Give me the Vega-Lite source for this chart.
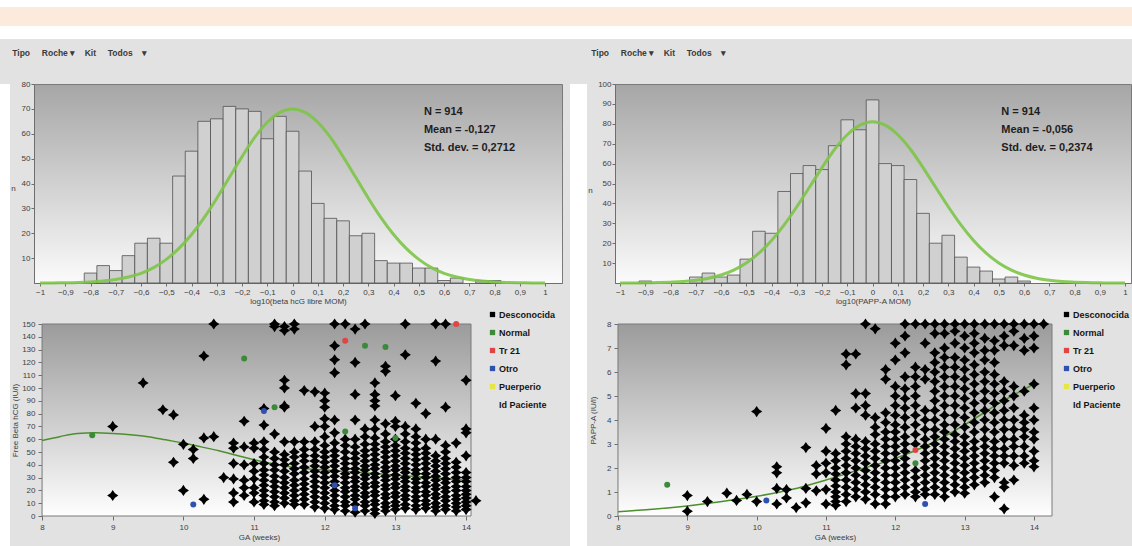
{
"$schema": "https://vega.github.io/schema/vega-lite/v6.json",
"padding": 0,
"background": "#e2e2e2",
"spacing": 10,
"datasets": {
"h1": [{"lo":-0.825,"hi":-0.775,"n":4},{"lo":-0.775,"hi":-0.725,"n":7},{"lo":-0.725,"hi":-0.675,"n":5},{"lo":-0.675,"hi":-0.625,"n":11},{"lo":-0.625,"hi":-0.575,"n":16},{"lo":-0.575,"hi":-0.525,"n":18},{"lo":-0.525,"hi":-0.475,"n":16},{"lo":-0.475,"hi":-0.425,"n":43},{"lo":-0.425,"hi":-0.375,"n":53},{"lo":-0.375,"hi":-0.325,"n":65},{"lo":-0.325,"hi":-0.275,"n":66},{"lo":-0.275,"hi":-0.225,"n":71},{"lo":-0.225,"hi":-0.175,"n":70},{"lo":-0.175,"hi":-0.125,"n":69},{"lo":-0.125,"hi":-0.075,"n":58},{"lo":-0.075,"hi":-0.025,"n":67},{"lo":-0.025,"hi":0.025,"n":61},{"lo":0.025,"hi":0.075,"n":45},{"lo":0.075,"hi":0.125,"n":32},{"lo":0.125,"hi":0.175,"n":26},{"lo":0.175,"hi":0.225,"n":25},{"lo":0.225,"hi":0.275,"n":19},{"lo":0.275,"hi":0.325,"n":20},{"lo":0.325,"hi":0.375,"n":9},{"lo":0.375,"hi":0.425,"n":8},{"lo":0.425,"hi":0.475,"n":8},{"lo":0.475,"hi":0.525,"n":6},{"lo":0.525,"hi":0.575,"n":6},{"lo":0.575,"hi":0.625,"n":1},{"lo":0.625,"hi":0.675,"n":2},{"lo":0.725,"hi":0.775,"n":1},{"lo":0.775,"hi":0.825,"n":1}],
"h2": [{"lo":-0.925,"hi":-0.875,"n":1},{"lo":-0.725,"hi":-0.675,"n":3},{"lo":-0.675,"hi":-0.625,"n":5},{"lo":-0.625,"hi":-0.575,"n":3},{"lo":-0.575,"hi":-0.525,"n":4},{"lo":-0.525,"hi":-0.475,"n":12},{"lo":-0.475,"hi":-0.425,"n":26},{"lo":-0.425,"hi":-0.375,"n":25},{"lo":-0.375,"hi":-0.325,"n":46},{"lo":-0.325,"hi":-0.275,"n":55},{"lo":-0.275,"hi":-0.225,"n":59},{"lo":-0.225,"hi":-0.175,"n":57},{"lo":-0.175,"hi":-0.125,"n":69},{"lo":-0.125,"hi":-0.075,"n":82},{"lo":-0.075,"hi":-0.025,"n":77},{"lo":-0.025,"hi":0.025,"n":92},{"lo":0.025,"hi":0.075,"n":60},{"lo":0.075,"hi":0.125,"n":59},{"lo":0.125,"hi":0.175,"n":52},{"lo":0.175,"hi":0.225,"n":35},{"lo":0.225,"hi":0.275,"n":20},{"lo":0.275,"hi":0.325,"n":24},{"lo":0.325,"hi":0.375,"n":13},{"lo":0.375,"hi":0.425,"n":8},{"lo":0.425,"hi":0.475,"n":6},{"lo":0.475,"hi":0.525,"n":2},{"lo":0.525,"hi":0.575,"n":3},{"lo":0.575,"hi":0.625,"n":1}],
"c1": [{"x":-1,"y":0},{"x":-0.95,"y":0.05},{"x":-0.9,"y":0.1},{"x":-0.85,"y":0.2},{"x":-0.8,"y":0.4},{"x":-0.75,"y":0.8},{"x":-0.7,"y":1.4},{"x":-0.65,"y":2.4},{"x":-0.6,"y":3.9},{"x":-0.55,"y":6.2},{"x":-0.5,"y":9.5},{"x":-0.45,"y":13.9},{"x":-0.4,"y":19.5},{"x":-0.35,"y":26.3},{"x":-0.3,"y":34.1},{"x":-0.25,"y":42.5},{"x":-0.2,"y":50.8},{"x":-0.15,"y":58.5},{"x":-0.1,"y":64.6},{"x":-0.05,"y":68.6},{"x":0,"y":70},{"x":0.05,"y":68.6},{"x":0.1,"y":64.6},{"x":0.15,"y":58.5},{"x":0.2,"y":50.8},{"x":0.25,"y":42.5},{"x":0.3,"y":34.1},{"x":0.35,"y":26.3},{"x":0.4,"y":19.5},{"x":0.45,"y":13.9},{"x":0.5,"y":9.5},{"x":0.55,"y":6.2},{"x":0.6,"y":3.9},{"x":0.65,"y":2.4},{"x":0.7,"y":1.4},{"x":0.75,"y":0.8},{"x":0.8,"y":0.4},{"x":0.85,"y":0.2},{"x":0.9,"y":0.1},{"x":0.95,"y":0.05},{"x":1,"y":0}],
"c2": [{"x":-1,"y":0},{"x":-0.95,"y":0},{"x":-0.9,"y":0.1},{"x":-0.85,"y":0.2},{"x":-0.8,"y":0.4},{"x":-0.75,"y":0.7},{"x":-0.7,"y":1.4},{"x":-0.65,"y":2.4},{"x":-0.6,"y":4.0},{"x":-0.55,"y":6.5},{"x":-0.5,"y":10.1},{"x":-0.45,"y":15.0},{"x":-0.4,"y":21.4},{"x":-0.35,"y":29.2},{"x":-0.3,"y":38.3},{"x":-0.25,"y":48.1},{"x":-0.2,"y":58.0},{"x":-0.15,"y":67.2},{"x":-0.1,"y":74.5},{"x":-0.05,"y":79.3},{"x":0,"y":81},{"x":0.05,"y":79.3},{"x":0.1,"y":74.5},{"x":0.15,"y":67.2},{"x":0.2,"y":58.0},{"x":0.25,"y":48.1},{"x":0.3,"y":38.3},{"x":0.35,"y":29.2},{"x":0.4,"y":21.4},{"x":0.45,"y":15.0},{"x":0.5,"y":10.1},{"x":0.55,"y":6.5},{"x":0.6,"y":4.0},{"x":0.65,"y":2.4},{"x":0.7,"y":1.4},{"x":0.75,"y":0.7},{"x":0.8,"y":0.4},{"x":0.85,"y":0.2},{"x":0.9,"y":0.1},{"x":0.95,"y":0},{"x":1,"y":0}],
"l1": [{"x":8,"y":59},{"x":8.25,"y":62},{"x":8.5,"y":64.5},{"x":8.75,"y":65},{"x":9,"y":64.5},{"x":9.25,"y":63.5},{"x":9.5,"y":62},{"x":9.75,"y":59.5},{"x":10,"y":57},{"x":10.25,"y":54},{"x":10.5,"y":51},{"x":10.75,"y":47.5},{"x":11,"y":44},{"x":11.25,"y":41},{"x":11.5,"y":38.5},{"x":11.75,"y":37},{"x":12,"y":36},{"x":12.5,"y":34},{"x":13,"y":32},{"x":13.5,"y":30},{"x":14,"y":28}],
"l2": [{"x":8,"y":0.18},{"x":8.5,"y":0.28},{"x":9,"y":0.42},{"x":9.5,"y":0.6},{"x":10,"y":0.82},{"x":10.5,"y":1.1},{"x":11,"y":1.5},{"x":11.5,"y":1.95},{"x":12,"y":2.4},{"x":12.5,"y":3.0},{"x":13,"y":3.8},{"x":13.5,"y":4.7},{"x":14,"y":5.5}],
"k1": [{"x":8.71,"y":63,"g":"Normal"},{"x":10.86,"y":123,"g":"Normal"},{"x":11.29,"y":85,"g":"Normal"},{"x":12.29,"y":66,"g":"Normal"},{"x":12.57,"y":133,"g":"Normal"},{"x":12.86,"y":132,"g":"Normal"},{"x":13.0,"y":61,"g":"Normal"},{"x":12.29,"y":137,"g":"Tr 21"},{"x":13.86,"y":150,"g":"Tr 21"},{"x":10.14,"y":9,"g":"Otro"},{"x":11.14,"y":82,"g":"Otro"},{"x":12.14,"y":24,"g":"Otro"},{"x":12.43,"y":6,"g":"Otro"}],
"k2": [{"x":8.71,"y":1.3,"g":"Normal"},{"x":12.29,"y":2.2,"g":"Normal"},{"x":12.29,"y":2.75,"g":"Tr 21"},{"x":10.14,"y":0.65,"g":"Otro"},{"x":12.43,"y":0.5,"g":"Otro"}],
"s1": [{"x":9,"y":70},{"x":9,"y":16},{"x":9.43,"y":104},{"x":9.71,"y":83},{"x":9.86,"y":79},{"x":9.86,"y":42},{"x":10,"y":56},{"x":10,"y":20},{"x":10.14,"y":52},{"x":10.14,"y":45},{"x":10.29,"y":61},{"x":10.29,"y":125},{"x":10.29,"y":13},{"x":10.43,"y":150},{"x":10.43,"y":62},{"x":10.57,"y":30},{"x":10.71,"y":57},{"x":10.71,"y":53},{"x":10.71,"y":41},{"x":10.71,"y":29},{"x":10.71,"y":18},{"x":10.71,"y":11},{"x":10.86,"y":74},{"x":10.86,"y":54},{"x":10.86,"y":40},{"x":10.86,"y":28},{"x":10.86,"y":22},{"x":10.86,"y":16},
{"x":11,"y":57},{"x":11,"y":53},{"x":11,"y":41},{"x":11,"y":35},{"x":11,"y":29},{"x":11,"y":22},{"x":11,"y":18},{"x":11,"y":11},
{"x":11.14,"y":84},{"x":11.14,"y":71},{"x":11.14,"y":58},{"x":11.14,"y":52},{"x":11.14,"y":46},{"x":11.14,"y":41},{"x":11.14,"y":36},{"x":11.14,"y":32},{"x":11.14,"y":28},{"x":11.14,"y":24},{"x":11.14,"y":20},{"x":11.14,"y":16},{"x":11.14,"y":12},{"x":11.14,"y":9},
{"x":11.29,"y":150},{"x":11.29,"y":148},{"x":11.29,"y":64},{"x":11.29,"y":50},{"x":11.29,"y":45},{"x":11.29,"y":40},{"x":11.29,"y":36},{"x":11.29,"y":31},{"x":11.29,"y":27},{"x":11.29,"y":23},{"x":11.29,"y":19},{"x":11.29,"y":15},{"x":11.29,"y":11},{"x":11.29,"y":8},
{"x":11.43,"y":148},{"x":11.43,"y":145},{"x":11.43,"y":106},{"x":11.43,"y":100},{"x":11.43,"y":86},{"x":11.43,"y":85},{"x":11.43,"y":58},{"x":11.43,"y":48},{"x":11.43,"y":44},{"x":11.43,"y":40},{"x":11.43,"y":35},{"x":11.43,"y":30},{"x":11.43,"y":26},{"x":11.43,"y":22},{"x":11.43,"y":18},{"x":11.43,"y":14},{"x":11.43,"y":10},
{"x":11.57,"y":150},{"x":11.57,"y":146},{"x":11.57,"y":58},{"x":11.57,"y":50},{"x":11.57,"y":46},{"x":11.57,"y":41},{"x":11.57,"y":37},{"x":11.57,"y":33},{"x":11.57,"y":28},{"x":11.57,"y":24},{"x":11.57,"y":20},{"x":11.57,"y":16},{"x":11.57,"y":12},{"x":11.57,"y":9},
{"x":11.71,"y":98},{"x":11.71,"y":58},{"x":11.71,"y":52},{"x":11.71,"y":47},{"x":11.71,"y":43},{"x":11.71,"y":38},{"x":11.71,"y":34},{"x":11.71,"y":29},{"x":11.71,"y":25},{"x":11.71,"y":21},{"x":11.71,"y":17},{"x":11.71,"y":13},{"x":11.71,"y":9},
{"x":11.86,"y":97},{"x":11.86,"y":70},{"x":11.86,"y":58},{"x":11.86,"y":52},{"x":11.86,"y":47},{"x":11.86,"y":43},{"x":11.86,"y":39},{"x":11.86,"y":35},{"x":11.86,"y":31},{"x":11.86,"y":27},{"x":11.86,"y":23},{"x":11.86,"y":19},{"x":11.86,"y":15},{"x":11.86,"y":11},{"x":11.86,"y":7},
{"x":12,"y":96},{"x":12,"y":90},{"x":12,"y":85},{"x":12,"y":76},{"x":12,"y":70},{"x":12,"y":62},{"x":12,"y":55},{"x":12,"y":50},{"x":12,"y":46},{"x":12,"y":42},{"x":12,"y":38},{"x":12,"y":34},{"x":12,"y":30},{"x":12,"y":26},{"x":12,"y":22},{"x":12,"y":18},{"x":12,"y":14},{"x":12,"y":10},{"x":12,"y":6},
{"x":12.14,"y":150},{"x":12.14,"y":133},{"x":12.14,"y":122},{"x":12.14,"y":112},{"x":12.14,"y":75},{"x":12.14,"y":65},{"x":12.14,"y":57},{"x":12.14,"y":51},{"x":12.14,"y":47},{"x":12.14,"y":43},{"x":12.14,"y":39},{"x":12.14,"y":35},{"x":12.14,"y":31},{"x":12.14,"y":27},{"x":12.14,"y":24},{"x":12.14,"y":20},{"x":12.14,"y":16},{"x":12.14,"y":12},{"x":12.14,"y":8},{"x":12.14,"y":5},
{"x":12.29,"y":150},{"x":12.29,"y":60},{"x":12.29,"y":55},{"x":12.29,"y":50},{"x":12.29,"y":45},{"x":12.29,"y":41},{"x":12.29,"y":37},{"x":12.29,"y":33},{"x":12.29,"y":30},{"x":12.29,"y":26},{"x":12.29,"y":22},{"x":12.29,"y":19},{"x":12.29,"y":15},{"x":12.29,"y":11},{"x":12.29,"y":8},{"x":12.29,"y":4},
{"x":12.43,"y":146},{"x":12.43,"y":120},{"x":12.43,"y":95},{"x":12.43,"y":75},{"x":12.43,"y":60},{"x":12.43,"y":54},{"x":12.43,"y":49},{"x":12.43,"y":45},{"x":12.43,"y":41},{"x":12.43,"y":37},{"x":12.43,"y":34},{"x":12.43,"y":30},{"x":12.43,"y":27},{"x":12.43,"y":23},{"x":12.43,"y":20},{"x":12.43,"y":16},{"x":12.43,"y":13},{"x":12.43,"y":9},{"x":12.43,"y":3},
{"x":12.57,"y":150},{"x":12.57,"y":68},{"x":12.57,"y":62},{"x":12.57,"y":56},{"x":12.57,"y":51},{"x":12.57,"y":47},{"x":12.57,"y":43},{"x":12.57,"y":39},{"x":12.57,"y":36},{"x":12.57,"y":32},{"x":12.57,"y":29},{"x":12.57,"y":25},{"x":12.57,"y":22},{"x":12.57,"y":18},{"x":12.57,"y":15},{"x":12.57,"y":11},{"x":12.57,"y":8},{"x":12.57,"y":4},
{"x":12.71,"y":104},{"x":12.71,"y":95},{"x":12.71,"y":90},{"x":12.71,"y":86},{"x":12.71,"y":75},{"x":12.71,"y":68},{"x":12.71,"y":61},{"x":12.71,"y":56},{"x":12.71,"y":52},{"x":12.71,"y":48},{"x":12.71,"y":44},{"x":12.71,"y":40},{"x":12.71,"y":37},{"x":12.71,"y":33},{"x":12.71,"y":30},{"x":12.71,"y":26},{"x":12.71,"y":23},{"x":12.71,"y":19},{"x":12.71,"y":16},{"x":12.71,"y":12},{"x":12.71,"y":9},{"x":12.71,"y":5},{"x":12.71,"y":2},
{"x":12.86,"y":117},{"x":12.86,"y":113},{"x":12.86,"y":72},{"x":12.86,"y":64},{"x":12.86,"y":58},{"x":12.86,"y":54},{"x":12.86,"y":50},{"x":12.86,"y":46},{"x":12.86,"y":42},{"x":12.86,"y":38},{"x":12.86,"y":35},{"x":12.86,"y":31},{"x":12.86,"y":28},{"x":12.86,"y":24},{"x":12.86,"y":21},{"x":12.86,"y":17},{"x":12.86,"y":14},{"x":12.86,"y":10},{"x":12.86,"y":7},{"x":12.86,"y":4},
{"x":13,"y":94},{"x":13,"y":74},{"x":13,"y":70},{"x":13,"y":60},{"x":13,"y":55},{"x":13,"y":51},{"x":13,"y":47},{"x":13,"y":43},{"x":13,"y":39},{"x":13,"y":36},{"x":13,"y":32},{"x":13,"y":29},{"x":13,"y":25},{"x":13,"y":22},{"x":13,"y":18},{"x":13,"y":15},{"x":13,"y":11},{"x":13,"y":8},{"x":13,"y":5},
{"x":13.14,"y":150},{"x":13.14,"y":126},{"x":13.14,"y":70},{"x":13.14,"y":64},{"x":13.14,"y":58},{"x":13.14,"y":53},{"x":13.14,"y":49},{"x":13.14,"y":45},{"x":13.14,"y":41},{"x":13.14,"y":37},{"x":13.14,"y":34},{"x":13.14,"y":30},{"x":13.14,"y":27},{"x":13.14,"y":23},{"x":13.14,"y":20},{"x":13.14,"y":16},{"x":13.14,"y":13},{"x":13.14,"y":9},{"x":13.14,"y":6},
{"x":13.29,"y":88},{"x":13.29,"y":68},{"x":13.29,"y":62},{"x":13.29,"y":57},{"x":13.29,"y":52},{"x":13.29,"y":48},{"x":13.29,"y":44},{"x":13.29,"y":40},{"x":13.29,"y":36},{"x":13.29,"y":33},{"x":13.29,"y":29},{"x":13.29,"y":26},{"x":13.29,"y":22},{"x":13.29,"y":19},{"x":13.29,"y":15},{"x":13.29,"y":12},{"x":13.29,"y":8},{"x":13.29,"y":5},
{"x":13.43,"y":80},{"x":13.43,"y":60},{"x":13.43,"y":53},{"x":13.43,"y":49},{"x":13.43,"y":45},{"x":13.43,"y":41},{"x":13.43,"y":37},{"x":13.43,"y":33},{"x":13.43,"y":30},{"x":13.43,"y":26},{"x":13.43,"y":23},{"x":13.43,"y":19},{"x":13.43,"y":16},{"x":13.43,"y":12},{"x":13.43,"y":9},{"x":13.43,"y":6},
{"x":13.57,"y":150},{"x":13.57,"y":121},{"x":13.57,"y":60},{"x":13.57,"y":47},{"x":13.57,"y":43},{"x":13.57,"y":39},{"x":13.57,"y":35},{"x":13.57,"y":31},{"x":13.57,"y":28},{"x":13.57,"y":24},{"x":13.57,"y":21},{"x":13.57,"y":17},{"x":13.57,"y":14},{"x":13.57,"y":10},{"x":13.57,"y":7},{"x":13.57,"y":4},
{"x":13.71,"y":150},{"x":13.71,"y":85},{"x":13.71,"y":55},{"x":13.71,"y":50},{"x":13.71,"y":45},{"x":13.71,"y":41},{"x":13.71,"y":37},{"x":13.71,"y":33},{"x":13.71,"y":29},{"x":13.71,"y":26},{"x":13.71,"y":22},{"x":13.71,"y":19},{"x":13.71,"y":15},{"x":13.71,"y":12},{"x":13.71,"y":8},{"x":13.71,"y":5},
{"x":13.86,"y":57},{"x":13.86,"y":42},{"x":13.86,"y":38},{"x":13.86,"y":34},{"x":13.86,"y":30},{"x":13.86,"y":27},{"x":13.86,"y":23},{"x":13.86,"y":20},{"x":13.86,"y":16},{"x":13.86,"y":13},{"x":13.86,"y":10},{"x":13.86,"y":7},{"x":13.86,"y":4},
{"x":14,"y":106},{"x":14,"y":68},{"x":14,"y":65},{"x":14,"y":47},{"x":14,"y":34},{"x":14,"y":30},{"x":14,"y":27},{"x":14,"y":23},{"x":14,"y":20},{"x":14,"y":17},{"x":14,"y":14},{"x":14,"y":11},{"x":14,"y":8},{"x":14,"y":5},
{"x":14.14,"y":12}],
"s2": [{"x":9,"y":0.85},{"x":9,"y":0.2},{"x":9.29,"y":0.6},{"x":9.57,"y":0.95},{"x":9.71,"y":0.65},{"x":9.86,"y":0.9},{"x":10,"y":4.35},{"x":10,"y":0.6},{"x":10.29,"y":2.05},{"x":10.29,"y":1.8},{"x":10.29,"y":1.15},{"x":10.29,"y":0.5},{"x":10.43,"y":1.1},{"x":10.43,"y":0.75},{"x":10.57,"y":0.35},{"x":10.71,"y":2.85},{"x":10.71,"y":1.15},{"x":10.71,"y":0.55},{"x":10.86,"y":2.1},{"x":10.86,"y":1.75},{"x":10.86,"y":1.05},
{"x":11,"y":3.65},{"x":11,"y":2.7},{"x":11,"y":2.2},{"x":11,"y":1.8},{"x":11,"y":1.1},{"x":11,"y":0.5},
{"x":11.14,"y":4.4},{"x":11.14,"y":2.6},{"x":11.14,"y":2.3},{"x":11.14,"y":2.0},{"x":11.14,"y":1.75},{"x":11.14,"y":1.5},{"x":11.14,"y":1.25},{"x":11.14,"y":1.0},{"x":11.14,"y":0.8},{"x":11.14,"y":0.6},{"x":11.14,"y":0.45},
{"x":11.29,"y":6.75},{"x":11.29,"y":6.3},{"x":11.29,"y":3.3},{"x":11.29,"y":3.0},{"x":11.29,"y":2.7},{"x":11.29,"y":2.4},{"x":11.29,"y":2.1},{"x":11.29,"y":1.8},{"x":11.29,"y":1.5},{"x":11.29,"y":1.2},{"x":11.29,"y":0.9},{"x":11.29,"y":0.6},
{"x":11.43,"y":6.75},{"x":11.43,"y":5.1},{"x":11.43,"y":4.5},{"x":11.43,"y":3.2},{"x":11.43,"y":2.9},{"x":11.43,"y":2.6},{"x":11.43,"y":2.3},{"x":11.43,"y":2.0},{"x":11.43,"y":1.7},{"x":11.43,"y":1.4},{"x":11.43,"y":1.1},{"x":11.43,"y":0.8},
{"x":11.57,"y":8},{"x":11.57,"y":5.1},{"x":11.57,"y":4.6},{"x":11.57,"y":4.2},{"x":11.57,"y":3.1},{"x":11.57,"y":2.8},{"x":11.57,"y":2.5},{"x":11.57,"y":2.2},{"x":11.57,"y":1.9},{"x":11.57,"y":1.6},{"x":11.57,"y":1.3},{"x":11.57,"y":1.0},{"x":11.57,"y":0.7},
{"x":11.71,"y":7.8},{"x":11.71,"y":4.1},{"x":11.71,"y":3.7},{"x":11.71,"y":3.4},{"x":11.71,"y":3.0},{"x":11.71,"y":2.7},{"x":11.71,"y":2.4},{"x":11.71,"y":2.1},{"x":11.71,"y":1.8},{"x":11.71,"y":1.5},{"x":11.71,"y":1.2},{"x":11.71,"y":0.9},{"x":11.71,"y":0.5},
{"x":11.86,"y":6.1},{"x":11.86,"y":5.7},{"x":11.86,"y":4.3},{"x":11.86,"y":3.9},{"x":11.86,"y":3.5},{"x":11.86,"y":3.2},{"x":11.86,"y":2.9},{"x":11.86,"y":2.6},{"x":11.86,"y":2.3},{"x":11.86,"y":2.0},{"x":11.86,"y":1.7},{"x":11.86,"y":1.4},{"x":11.86,"y":1.1},{"x":11.86,"y":0.8},{"x":11.86,"y":0.5},
{"x":12,"y":7.2},{"x":12,"y":6.5},{"x":12,"y":5.4},{"x":12,"y":5.0},{"x":12,"y":4.6},{"x":12,"y":4.2},{"x":12,"y":3.8},{"x":12,"y":3.5},{"x":12,"y":3.2},{"x":12,"y":2.9},{"x":12,"y":2.6},{"x":12,"y":2.3},{"x":12,"y":2.0},{"x":12,"y":1.7},{"x":12,"y":1.4},{"x":12,"y":1.1},{"x":12,"y":0.8},
{"x":12.14,"y":8},{"x":12.14,"y":7.5},{"x":12.14,"y":6.8},{"x":12.14,"y":5.8},{"x":12.14,"y":5.3},{"x":12.14,"y":4.9},{"x":12.14,"y":4.5},{"x":12.14,"y":4.1},{"x":12.14,"y":3.7},{"x":12.14,"y":3.3},{"x":12.14,"y":3.0},{"x":12.14,"y":2.7},{"x":12.14,"y":2.4},{"x":12.14,"y":2.1},{"x":12.14,"y":1.8},{"x":12.14,"y":1.5},{"x":12.14,"y":1.2},{"x":12.14,"y":0.9},
{"x":12.29,"y":8},{"x":12.29,"y":6.2},{"x":12.29,"y":5.8},{"x":12.29,"y":5.4},{"x":12.29,"y":5.0},{"x":12.29,"y":4.6},{"x":12.29,"y":4.2},{"x":12.29,"y":3.8},{"x":12.29,"y":3.4},{"x":12.29,"y":3.0},{"x":12.29,"y":1.9},{"x":12.29,"y":1.6},{"x":12.29,"y":1.3},{"x":12.29,"y":1.0},{"x":12.29,"y":0.8},
{"x":12.43,"y":8},{"x":12.43,"y":7.2},{"x":12.43,"y":6.1},{"x":12.43,"y":5.7},{"x":12.43,"y":4.4},{"x":12.43,"y":4.0},{"x":12.43,"y":3.6},{"x":12.43,"y":3.2},{"x":12.43,"y":2.9},{"x":12.43,"y":2.6},{"x":12.43,"y":2.3},{"x":12.43,"y":2.0},{"x":12.43,"y":1.7},{"x":12.43,"y":1.4},{"x":12.43,"y":1.1},{"x":12.43,"y":0.9},
{"x":12.57,"y":8},{"x":12.57,"y":7.6},{"x":12.57,"y":6.8},{"x":12.57,"y":6.4},{"x":12.57,"y":6.0},{"x":12.57,"y":5.6},{"x":12.57,"y":5.2},{"x":12.57,"y":4.8},{"x":12.57,"y":4.4},{"x":12.57,"y":4.0},{"x":12.57,"y":3.6},{"x":12.57,"y":3.3},{"x":12.57,"y":3.0},{"x":12.57,"y":2.7},{"x":12.57,"y":2.4},{"x":12.57,"y":2.1},{"x":12.57,"y":1.8},{"x":12.57,"y":1.5},{"x":12.57,"y":1.2},{"x":12.57,"y":0.9},
{"x":12.71,"y":8},{"x":12.71,"y":7.6},{"x":12.71,"y":7.0},{"x":12.71,"y":6.6},{"x":12.71,"y":6.2},{"x":12.71,"y":5.8},{"x":12.71,"y":5.4},{"x":12.71,"y":5.0},{"x":12.71,"y":4.6},{"x":12.71,"y":4.2},{"x":12.71,"y":3.8},{"x":12.71,"y":3.5},{"x":12.71,"y":3.2},{"x":12.71,"y":2.9},{"x":12.71,"y":2.6},{"x":12.71,"y":2.3},{"x":12.71,"y":2.0},{"x":12.71,"y":1.7},{"x":12.71,"y":1.4},{"x":12.71,"y":1.1},{"x":12.71,"y":0.8},
{"x":12.86,"y":8},{"x":12.86,"y":7.7},{"x":12.86,"y":7.2},{"x":12.86,"y":6.6},{"x":12.86,"y":6.2},{"x":12.86,"y":5.8},{"x":12.86,"y":5.4},{"x":12.86,"y":5.0},{"x":12.86,"y":4.6},{"x":12.86,"y":4.2},{"x":12.86,"y":3.8},{"x":12.86,"y":3.4},{"x":12.86,"y":3.1},{"x":12.86,"y":2.8},{"x":12.86,"y":2.5},{"x":12.86,"y":2.2},{"x":12.86,"y":1.9},{"x":12.86,"y":1.6},{"x":12.86,"y":1.3},{"x":12.86,"y":1.0},
{"x":13,"y":8},{"x":13,"y":7.5},{"x":13,"y":7.0},{"x":13,"y":6.5},{"x":13,"y":6.1},{"x":13,"y":5.7},{"x":13,"y":5.3},{"x":13,"y":4.9},{"x":13,"y":4.5},{"x":13,"y":4.1},{"x":13,"y":3.7},{"x":13,"y":3.3},{"x":13,"y":3.0},{"x":13,"y":2.7},{"x":13,"y":2.4},{"x":13,"y":2.1},{"x":13,"y":1.8},{"x":13,"y":1.5},{"x":13,"y":1.2},{"x":13,"y":0.95},
{"x":13.14,"y":8},{"x":13.14,"y":7.6},{"x":13.14,"y":7.2},{"x":13.14,"y":6.8},{"x":13.14,"y":6.3},{"x":13.14,"y":5.9},{"x":13.14,"y":5.5},{"x":13.14,"y":5.1},{"x":13.14,"y":4.7},{"x":13.14,"y":4.3},{"x":13.14,"y":3.9},{"x":13.14,"y":3.5},{"x":13.14,"y":3.1},{"x":13.14,"y":2.8},{"x":13.14,"y":2.5},{"x":13.14,"y":2.2},{"x":13.14,"y":1.9},{"x":13.14,"y":1.6},{"x":13.14,"y":1.3},
{"x":13.29,"y":8},{"x":13.29,"y":7.4},{"x":13.29,"y":6.9},{"x":13.29,"y":6.5},{"x":13.29,"y":6.0},{"x":13.29,"y":5.6},{"x":13.29,"y":5.2},{"x":13.29,"y":4.8},{"x":13.29,"y":4.4},{"x":13.29,"y":4.0},{"x":13.29,"y":3.6},{"x":13.29,"y":3.2},{"x":13.29,"y":2.9},{"x":13.29,"y":2.6},{"x":13.29,"y":2.3},{"x":13.29,"y":2.0},{"x":13.29,"y":1.7},{"x":13.29,"y":1.4},
{"x":13.43,"y":8},{"x":13.43,"y":7.3},{"x":13.43,"y":6.9},{"x":13.43,"y":6.4},{"x":13.43,"y":5.9},{"x":13.43,"y":5.5},{"x":13.43,"y":5.1},{"x":13.43,"y":4.7},{"x":13.43,"y":4.3},{"x":13.43,"y":3.9},{"x":13.43,"y":3.5},{"x":13.43,"y":3.1},{"x":13.43,"y":2.8},{"x":13.43,"y":2.5},{"x":13.43,"y":2.2},{"x":13.43,"y":1.9},{"x":13.43,"y":1.6},{"x":13.43,"y":0.8},
{"x":13.57,"y":8},{"x":13.57,"y":7.5},{"x":13.57,"y":7.1},{"x":13.57,"y":5.6},{"x":13.57,"y":5.2},{"x":13.57,"y":4.8},{"x":13.57,"y":4.4},{"x":13.57,"y":4.0},{"x":13.57,"y":3.6},{"x":13.57,"y":3.2},{"x":13.57,"y":2.8},{"x":13.57,"y":2.5},{"x":13.57,"y":2.2},{"x":13.57,"y":1.4},{"x":13.57,"y":1.2},{"x":13.57,"y":0.3},
{"x":13.71,"y":8},{"x":13.71,"y":7.7},{"x":13.71,"y":7.1},{"x":13.71,"y":5.4},{"x":13.71,"y":5.0},{"x":13.71,"y":4.5},{"x":13.71,"y":4.0},{"x":13.71,"y":3.6},{"x":13.71,"y":3.2},{"x":13.71,"y":2.9},{"x":13.71,"y":2.5},{"x":13.71,"y":2.1},{"x":13.71,"y":1.5},
{"x":13.86,"y":8},{"x":13.86,"y":7.4},{"x":13.86,"y":6.9},{"x":13.86,"y":5.2},{"x":13.86,"y":4.2},{"x":13.86,"y":3.9},{"x":13.86,"y":3.6},{"x":13.86,"y":3.3},{"x":13.86,"y":2.9},{"x":13.86,"y":2.5},{"x":13.86,"y":2.2},
{"x":14,"y":8},{"x":14,"y":7.5},{"x":14,"y":7.0},{"x":14,"y":5.5},{"x":14,"y":4.5},{"x":14,"y":4.0},{"x":14,"y":3.5},{"x":14,"y":3.2},{"x":14,"y":2.7},{"x":14,"y":2.3},{"x":14,"y":2.05},
{"x":14.14,"y":8}]
},
"vconcat": [
{"width": 1132, "height": 39, "data": {"values": [{}]}, "mark": {"type": "text", "text": ""}, "encoding": {},
 "view": {"stroke": null, "fill": {"gradient": "linear", "x1": 0, "y1": 0, "x2": 0, "y2": 1, "stops": [{"offset": 0, "color": "#ffffff"}, {"offset": 0.179, "color": "#ffffff"}, {"offset": 0.18, "color": "#fcebdc"}, {"offset": 0.66, "color": "#fcebdc"}, {"offset": 0.661, "color": "#ffffff"}, {"offset": 1, "color": "#ffffff"}]}}},
{"spacing": 0,
 "resolve": {"scale": {"x": "independent", "y": "independent", "color": "independent"}, "legend": {"color": "independent"}},
 "hconcat": [
 {"width": 10, "height": 464, "data": {"values": [{}]}, "mark": {"type": "text", "text": ""}, "encoding": {}, "view": {"stroke": null, "fill": "#ffffff"}},
 {"title": {"text": "Tipo\u00a0\u00a0\u00a0\u00a0\u00a0Roche ▾\u00a0\u00a0\u00a0\u00a0Kit\u00a0\u00a0\u00a0\u00a0\u00a0Todos\u00a0\u00a0\u00a0\u00a0▾", "anchor": "start", "frame": "bounds", "offset": 22, "dx": 2, "fontSize": 8.5, "fontWeight": "bold", "color": "#3a3a3a", "font": "Liberation Sans"},
  "spacing": 4,
  "resolve": {"scale": {"x": "independent", "y": "independent", "color": "independent"}},
  "vconcat": [
  {"width": 528, "height": 199,
   "view": {"stroke": "#7a7a7a", "strokeWidth": 1, "fill": {"gradient": "linear", "x1": 0, "y1": 0, "x2": 0, "y2": 1, "stops": [{"offset": 0, "color": "#a6a6a6"}, {"offset": 1, "color": "#fbfbfb"}]}},
   "layer": [
   {"data": {"name": "h1"}, "mark": {"type": "bar", "fill": "#d0d0d0", "stroke": "#505050", "strokeWidth": 0.8},
    "encoding": {
     "x": {"field": "lo", "type": "quantitative", "title": "log10(beta hcG libre MOM)", "scale": {"domain": [-1.024, 1.067], "nice": false, "zero": false},
       "axis": {"values": [-1,-0.9,-0.8,-0.7,-0.6,-0.5,-0.4,-0.3,-0.2,-0.1,0,0.1,0.2,0.3,0.4,0.5,0.6,0.7,0.8,0.9,1], "tickCount": 40, "labelExpr": "replace(format(datum.value, '.1~f'), '.', ',')", "tickSize": 3, "labelPadding": 2, "titlePadding": 1, "labelFlush": false, "labelOverlap": false}},
     "x2": {"field": "hi"},
     "y": {"field": "n", "type": "quantitative", "title": "n", "scale": {"domain": [0, 80], "nice": false},
       "axis": {"values": [10,20,30,40,50,60,70,80], "tickCount": 40, "format": "d", "labelOverlap": false, "tickSize": 3, "labelPadding": 1, "titleAngle": 0, "titleX": -21, "titleY": 104, "titleAlign": "center", "titleBaseline": "middle"}},
     "y2": {"datum": 0}}},
   {"data": {"name": "c1"}, "mark": {"type": "line", "color": "#7cc447", "strokeWidth": 3, "interpolate": "monotone", "opacity": 0.9},
    "encoding": {"x": {"field": "x", "type": "quantitative", "title": "log10(beta hcG libre MOM)"}, "y": {"field": "y", "type": "quantitative", "title": "n"}}},
   {"data": {"values": [{}]}, "mark": {"type": "text", "text": ["N = 914", "Mean = -0,127", "Std. dev. = 0,2712"], "align": "left", "baseline": "top", "fontSize": 11, "fontWeight": "bold", "color": "#1e1e1e", "lineHeight": 18, "font": "Liberation Sans"},
    "encoding": {"x": {"datum": 0.52, "type": "quantitative"}, "y": {"datum": 71, "type": "quantitative"}}}
   ]},
  {"width": 437, "height": 192,
   "view": {"stroke": null, "fill": null},
   "layer": [
   {"data": {"values": [{}]}, "mark": {"type": "rect", "stroke": "#7a7a7a", "strokeWidth": 1, "fill": {"gradient": "linear", "x1": 0, "y1": 0, "x2": 0, "y2": 1, "stops": [{"offset": 0, "color": "#9b9b9b"}, {"offset": 1, "color": "#fefefe"}]}},
    "encoding": {
     "x": {"datum": 8, "type": "quantitative", "title": "GA (weeks)", "scale": {"domain": [7.886, 14.07], "nice": false, "zero": false},
       "axis": {"values": [8,9,10,11,12,13,14], "tickCount": 40, "format": "d", "domain": false, "tickSize": 4, "labelPadding": 3, "titlePadding": 2, "labelFlush": false, "titleX": 225}},
     "x2": {"datum": 14.07},
     "y": {"datum": 0, "type": "quantitative", "title": "Free Beta hCG (IU/l)", "scale": {"domain": [0, 150], "nice": false},
       "axis": {"values": [0,10,20,30,40,50,60,70,80,90,100,110,120,130,140,150], "tickCount": 40, "format": "d", "labelOverlap": false, "offset": -8, "tickSize": 4, "labelPadding": 3, "titleX": -27, "titleY": 96, "titleAngle": 270, "titleAlign": "center", "titleBaseline": "middle"}},
     "y2": {"datum": 150}}},
   {"data": {"name": "l1"}, "mark": {"type": "line", "color": "#4d8f2e", "strokeWidth": 1.5, "interpolate": "monotone"},
    "encoding": {"x": {"field": "x", "type": "quantitative", "title": "GA (weeks)"}, "y": {"field": "y", "type": "quantitative", "title": "Free Beta hCG (IU/l)"}}},
   {"data": {"name": "s1"}, "mark": {"type": "point", "shape": "M0,-1L0.4,-0.4L1,0L0.4,0.4L0,1L-0.4,0.4L-1,0L-0.4,-0.4Z", "filled": true, "size": 125, "opacity": 1, "strokeWidth": 0},
    "encoding": {"x": {"field": "x", "type": "quantitative", "title": "GA (weeks)"}, "y": {"field": "y", "type": "quantitative", "title": "Free Beta hCG (IU/l)"},
     "color": {"datum": "Desconocida", "type": "nominal", "title": null,
       "scale": {"domain": ["Desconocida", "Normal", "Tr 21", "Otro", "Puerperio", "Id Paciente"], "range": ["#000000", "#3a8a3a", "#e04545", "#3050b0", "#e6e640", "rgba(0,0,0,0)"]},
       "legend": {"title": null, "orient": "none", "legendX": 454, "legendY": -14, "symbolType": "square", "symbolSize": 28, "symbolStrokeWidth": 0, "labelFontSize": 9, "labelFontWeight": "bold", "labelColor": "#151515", "labelFont": "Liberation Sans", "rowPadding": 8, "labelOffset": 2}}}},
   {"data": {"name": "k1"}, "mark": {"type": "circle", "size": 36, "opacity": 1},
    "encoding": {"x": {"field": "x", "type": "quantitative", "title": "GA (weeks)"}, "y": {"field": "y", "type": "quantitative", "title": "Free Beta hCG (IU/l)"},
     "color": {"field": "g", "type": "nominal", "title": null, "scale": {"domain": ["Desconocida", "Normal", "Tr 21", "Otro", "Puerperio", "Id Paciente"], "range": ["#000000", "#3a8a3a", "#e04545", "#3050b0", "#e6e640", "rgba(0,0,0,0)"]}}}}
   ]}
  ]},
 {"width": 24, "height": 464, "data": {"values": [{}]}, "mark": {"type": "text", "text": ""}, "encoding": {},
  "view": {"stroke": null, "fill": {"gradient": "linear", "x1": 0, "y1": 0, "x2": 1, "y2": 0, "stops": [{"offset": 0, "color": "#e2e2e2"}, {"offset": 0.29, "color": "#e2e2e2"}, {"offset": 0.292, "color": "#ffffff"}, {"offset": 1, "color": "#ffffff"}]}}},
 {"title": {"text": "Tipo\u00a0\u00a0\u00a0\u00a0\u00a0Roche ▾\u00a0\u00a0\u00a0\u00a0Kit\u00a0\u00a0\u00a0\u00a0\u00a0Todos\u00a0\u00a0\u00a0\u00a0▾", "anchor": "start", "frame": "bounds", "offset": 22, "dx": 4, "fontSize": 8.5, "fontWeight": "bold", "color": "#3a3a3a", "font": "Liberation Sans"},
  "spacing": 4,
  "resolve": {"scale": {"x": "independent", "y": "independent", "color": "independent"}},
  "vconcat": [
  {"width": 516, "height": 199,
   "view": {"stroke": "#7a7a7a", "strokeWidth": 1, "fill": {"gradient": "linear", "x1": 0, "y1": 0, "x2": 0, "y2": 1, "stops": [{"offset": 0, "color": "#a6a6a6"}, {"offset": 1, "color": "#fbfbfb"}]}},
   "layer": [
   {"data": {"name": "h2"}, "mark": {"type": "bar", "fill": "#d0d0d0", "stroke": "#505050", "strokeWidth": 0.8},
    "encoding": {
     "x": {"field": "lo", "type": "quantitative", "title": "log10(PAPP-A MOM)", "scale": {"domain": [-1.02, 1.0236], "nice": false, "zero": false},
       "axis": {"values": [-1,-0.9,-0.8,-0.7,-0.6,-0.5,-0.4,-0.3,-0.2,-0.1,0,0.1,0.2,0.3,0.4,0.5,0.6,0.7,0.8,0.9,1], "tickCount": 40, "labelExpr": "replace(format(datum.value, '.1~f'), '.', ',')", "tickSize": 3, "labelPadding": 2, "titlePadding": 1, "labelFlush": false, "labelOverlap": false}},
     "x2": {"field": "hi"},
     "y": {"field": "n", "type": "quantitative", "title": "n", "scale": {"domain": [0, 100], "nice": false},
       "axis": {"values": [10,20,30,40,50,60,70,80,90,100], "tickCount": 40, "format": "d", "labelOverlap": false, "tickSize": 3, "labelPadding": 1, "titleAngle": 0, "titleX": -25, "titleY": 106, "titleAlign": "center", "titleBaseline": "middle"}},
     "y2": {"datum": 0}}},
   {"data": {"name": "c2"}, "mark": {"type": "line", "color": "#7cc447", "strokeWidth": 3, "interpolate": "monotone", "opacity": 0.9},
    "encoding": {"x": {"field": "x", "type": "quantitative", "title": "log10(PAPP-A MOM)"}, "y": {"field": "y", "type": "quantitative", "title": "n"}}},
   {"data": {"values": [{}]}, "mark": {"type": "text", "text": ["N = 914", "Mean = -0,056", "Std. dev. = 0,2374"], "align": "left", "baseline": "top", "fontSize": 11, "fontWeight": "bold", "color": "#1e1e1e", "lineHeight": 18, "font": "Liberation Sans"},
    "encoding": {"x": {"datum": 0.51, "type": "quantitative"}, "y": {"datum": 89, "type": "quantitative"}}}
   ]},
  {"width": 437, "height": 192,
   "view": {"stroke": null, "fill": null},
   "layer": [
   {"data": {"values": [{}]}, "mark": {"type": "rect", "stroke": "#7a7a7a", "strokeWidth": 1, "fill": {"gradient": "linear", "x1": 0, "y1": 0, "x2": 0, "y2": 1, "stops": [{"offset": 0, "color": "#9b9b9b"}, {"offset": 1, "color": "#fefefe"}]}},
    "encoding": {
     "x": {"datum": 8, "type": "quantitative", "title": "GA (weeks)", "scale": {"domain": [7.957, 14.26], "nice": false, "zero": false},
       "axis": {"values": [8,9,10,11,12,13,14], "tickCount": 40, "format": "d", "domain": false, "tickSize": 4, "labelPadding": 3, "titlePadding": 2, "labelFlush": false, "titleX": 220}},
     "x2": {"datum": 14.26},
     "y": {"datum": 0, "type": "quantitative", "title": "PAPP-A (IU/l)", "scale": {"domain": [0, 8], "nice": false},
       "axis": {"values": [0,1,2,3,4,5,6,7,8], "tickCount": 40, "format": "d", "labelOverlap": false, "offset": -3, "tickSize": 4, "labelPadding": 3, "titleX": -25, "titleY": 96, "titleAngle": 270, "titleAlign": "center", "titleBaseline": "middle"}},
     "y2": {"datum": 8}}},
   {"data": {"name": "l2"}, "mark": {"type": "line", "color": "#4d8f2e", "strokeWidth": 1.5, "interpolate": "monotone"},
    "encoding": {"x": {"field": "x", "type": "quantitative", "title": "GA (weeks)"}, "y": {"field": "y", "type": "quantitative", "title": "PAPP-A (IU/l)"}}},
   {"data": {"name": "s2"}, "mark": {"type": "point", "shape": "M0,-1L0.4,-0.4L1,0L0.4,0.4L0,1L-0.4,0.4L-1,0L-0.4,-0.4Z", "filled": true, "size": 125, "opacity": 1, "strokeWidth": 0},
    "encoding": {"x": {"field": "x", "type": "quantitative", "title": "GA (weeks)"}, "y": {"field": "y", "type": "quantitative", "title": "PAPP-A (IU/l)"},
     "color": {"datum": "Desconocida", "type": "nominal", "title": null,
       "scale": {"domain": ["Desconocida", "Normal", "Tr 21", "Otro", "Puerperio", "Id Paciente"], "range": ["#000000", "#3a8a3a", "#e04545", "#3050b0", "#e6e640", "rgba(0,0,0,0)"]},
       "legend": {"title": null, "orient": "none", "legendX": 447, "legendY": -14, "symbolType": "square", "symbolSize": 28, "symbolStrokeWidth": 0, "labelFontSize": 9, "labelFontWeight": "bold", "labelColor": "#151515", "labelFont": "Liberation Sans", "rowPadding": 8, "labelOffset": 2, "labelLimit": 66}}}},
   {"data": {"name": "k2"}, "mark": {"type": "circle", "size": 36, "opacity": 1},
    "encoding": {"x": {"field": "x", "type": "quantitative", "title": "GA (weeks)"}, "y": {"field": "y", "type": "quantitative", "title": "PAPP-A (IU/l)"},
     "color": {"field": "g", "type": "nominal", "title": null, "scale": {"domain": ["Desconocida", "Normal", "Tr 21", "Otro", "Puerperio", "Id Paciente"], "range": ["#000000", "#3a8a3a", "#e04545", "#3050b0", "#e6e640", "rgba(0,0,0,0)"]}}}}
   ]}
  ]}
 ]}
],
"config": {
 "font": "Liberation Sans",
 "view": {"stroke": null},
 "axis": {"labelFont": "Liberation Sans", "labelFontSize": 8, "labelColor": "#404040", "titleFont": "Liberation Sans", "titleFontSize": 8, "titleFontWeight": "normal", "titleColor": "#404040", "domainColor": "#6e6e6e", "tickColor": "#6e6e6e", "grid": false}
}
}
